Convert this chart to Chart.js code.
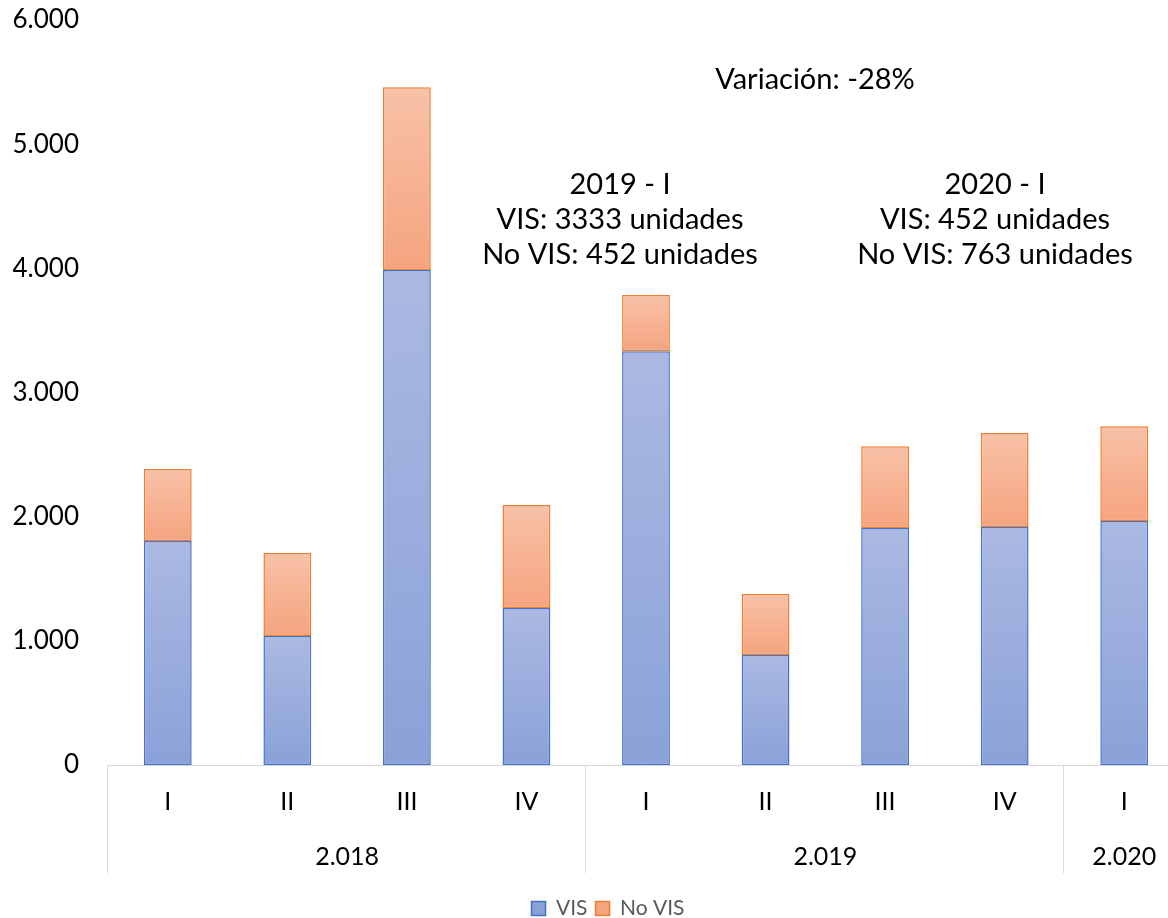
<!DOCTYPE html>
<html>
<head>
<meta charset="utf-8">
<script src="https://cdn.jsdelivr.net/npm/chart.js@4.4.1/dist/chart.umd.min.js"></script>
<style>
  html, body { margin: 0; padding: 0; background: #fff; overflow: hidden; }
  #wrap { position: relative; width: 1184px; height: 929px; }
</style>
</head>
<body>
<div id="wrap"><canvas id="chart"></canvas></div>
<script>
// Quarterly housing units, stacked VIS / No VIS
const quarters = ['I', 'II', 'III', 'IV', 'I', 'II', 'III', 'IV', 'I'];
const years = ['2.018', '2.019', '2.020'];
const yearSpans = [4, 4, 1];
const visValues = [1804, 1039, 3986, 1264, 3333, 886, 1908, 1916, 1966];
const noVisValues = [579, 668, 1473, 829, 452, 491, 660, 757, 763];
const yTicks = [0, 1000, 2000, 3000, 4000, 5000, 6000];
const yTickLabels = ['0', '1.000', '2.000', '3.000', '4.000', '5.000', '6.000'];
const noteVariation = ['Variación: -28%'];
const note2019 = ['2019 - I', 'VIS: 3333 unidades', 'No VIS: 452 unidades'];
const note2020 = ['2020 - I', 'VIS: 452 unidades', 'No VIS: 763 unidades'];

const FONT = 'Lato, "Liberation Sans", sans-serif';

function gradientFill(colTop, colBottom, flat, lowerSeries) {
  return function (c) {
    const chart = c.chart;
    if (!chart.chartArea || c.type !== 'data') return flat;
    const y = chart.scales.y;
    const i = c.dataIndex;
    const base = lowerSeries ? lowerSeries[i] : 0;
    const value = c.dataset.data[i];
    const yTop = y.getPixelForValue(base + value);
    const yBot = y.getPixelForValue(base);
    const g = chart.ctx.createLinearGradient(0, yTop, 0, yBot);
    g.addColorStop(0, colTop);
    g.addColorStop(1, colBottom);
    return g;
  };
}

// Year groups under the quarter labels, group separators and text notes
const groupAxisPlugin = {
  id: 'groupAxis',
  afterLayout(chart) {
    // let the value labels use the full left margin
    const y = chart.scales.y;
    y.left = 0;
    y.width = y.right;
  },
  afterDraw(chart) {
    const { ctx, scales: { x }, chartArea } = chart;
    const half = (x.getPixelForValue(1) - x.getPixelForValue(0)) / 2;
    const axisY = chartArea.bottom;
    ctx.save();
    ctx.strokeStyle = '#d9d9d9';
    ctx.lineWidth = 1;
    let start = 0;
    const edges = [x.getPixelForValue(0) - half];
    yearSpans.forEach(n => {
      edges.push(x.getPixelForValue(start + n - 1) + half);
      start += n;
    });
    edges.forEach(px => {
      const xx = Math.round(px) - 0.5;
      ctx.beginPath();
      ctx.moveTo(xx, axisY);
      ctx.lineTo(xx, axisY + 108);
      ctx.stroke();
    });
    ctx.fillStyle = '#000';
    ctx.font = '25px ' + FONT;
    ctx.textAlign = 'center';
    ctx.textBaseline = 'middle';
    years.forEach((yr, k) => {
      ctx.fillText(yr, (edges[k] + edges[k + 1]) / 2, axisY + 92);
    });

    ctx.font = '29px ' + FONT;
    const drawNote = (lines, cx, cy) => {
      lines.forEach((t, j) => ctx.fillText(t, cx, cy + j * 35));
    };
    drawNote(noteVariation, 815, 80);
    drawNote(note2019, 620, 185);
    drawNote(note2020, 995, 185);
    ctx.restore();
  }
};

new Chart(document.getElementById('chart'), {
  type: 'bar',
  data: {
    labels: quarters,
    datasets: [
      {
        label: 'VIS',
        data: visValues,
        backgroundColor: gradientFill('#abb9e2', '#8aa1d8', '#9dafdf'),
        borderColor: '#4472c4',
        borderWidth: 1.5,
        borderSkipped: false
      },
      {
        label: 'No VIS',
        data: noVisValues,
        backgroundColor: gradientFill('#f8c1a7', '#f5a47f', '#f7b394', visValues),
        borderColor: '#ed7d31',
        borderWidth: 1.5,
        borderSkipped: false
      }
    ]
  },
  options: {
    responsive: true,
    maintainAspectRatio: false,
    animation: false,
    devicePixelRatio: 1,
    layout: { padding: { top: 20, left: 32, right: 0, bottom: 0 } },
    datasets: { bar: { categoryPercentage: 1, barPercentage: 0.4 } },
    scales: {
      x: {
        stacked: true,
        grid: { display: false, drawTicks: false },
        border: { display: true, color: '#d9d9d9', width: 1 },
        ticks: { color: '#000', font: { family: FONT, size: 25 }, padding: 22, maxRotation: 0 },
        afterFit(scale) { scale.height = 125; }
      },
      y: {
        stacked: true,
        min: 0,
        max: 6000,
        // hidden tick marks keep the labels clear of the plot
        grid: { display: false, drawTicks: true, tickLength: 29 },
        border: { display: false },
        afterBuildTicks(scale) { scale.ticks = yTicks.map(v => ({ value: v })); },
        ticks: {
          color: '#000',
          font: { family: FONT, size: 26 },
          padding: 0,
          callback: v => yTickLabels[yTicks.indexOf(v)]
        },
        afterFit(scale) { scale.width = 76; }
      }
    },
    plugins: {
      legend: {
        position: 'bottom',
        labels: {
          color: '#595959',
          font: { family: FONT, size: 21 },
          boxWidth: 14,
          boxHeight: 14,
          padding: 8
        }
      },
      tooltip: { enabled: false }
    }
  },
  plugins: [groupAxisPlugin]
});
</script>
</body>
</html>
